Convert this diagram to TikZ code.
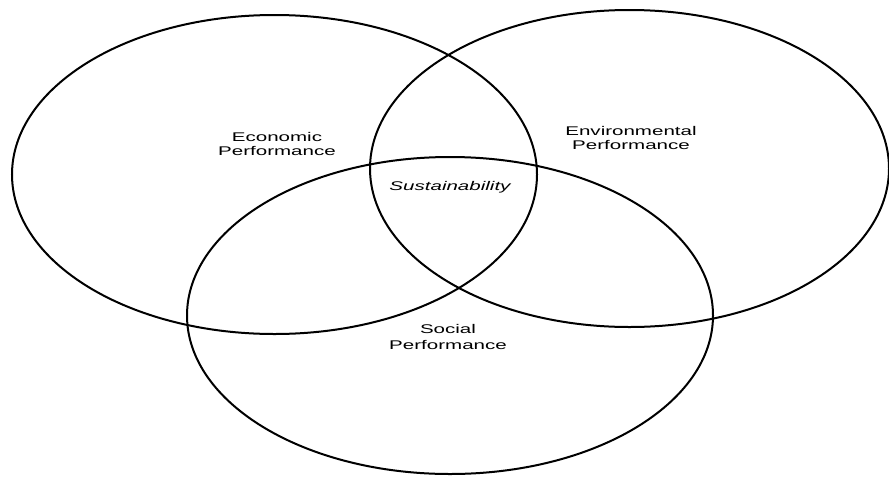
\documentclass[tikz,border=0pt]{standalone}
\usepackage{fontspec}
\setmainfont{Liberation Sans}
\begin{document}
\begin{tikzpicture}[x=1pt,y=-1pt,
  ring/.style={draw=black,line width=2pt},
  lbl/.style={align=center,font=\fontsize{12.6}{14.5}\selectfont,xscale=1.63,transform shape,inner sep=0pt}]
\useasboundingbox (0,0) rectangle (889,477);
\draw[ring] (274.5,174.5) ellipse [x radius=262.5pt, y radius=159.5pt];
\draw[ring] (629.5,168.5) ellipse [x radius=259.5pt, y radius=158.5pt];
\draw[ring] (450,315.5) ellipse [x radius=263pt, y radius=158.5pt];
\node[lbl] (eco) at (277,144) {Economic\\Performance};
\node[lbl] (env) at (631,138) {Environmental\\Performance};
\node[lbl,font=\fontsize{12.6}{14.5}\selectfont\itshape] (sus) at (450,187) {Sustainability};
\node[lbl,font=\fontsize{12.6}{16.5}\selectfont] (soc) at (448,337) {Social\\Performance};
\end{tikzpicture}
\end{document}
